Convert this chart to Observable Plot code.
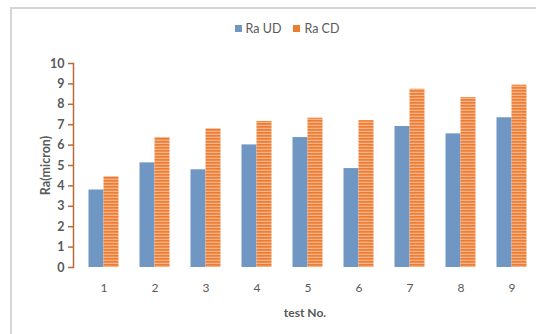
<!DOCTYPE html>
<html>
<head>
<meta charset="utf-8">
<script src="https://cdn.jsdelivr.net/npm/d3@7"></script>
<script src="https://cdn.jsdelivr.net/npm/@observablehq/plot@0.6"></script>
<style>
  html, body { margin: 0; padding: 0; background: #fff; overflow: hidden; }
  #wrap { position: relative; width: 536px; height: 334px; }
  #border { position: absolute; left: 10px; top: 7px; right: -4px; bottom: -4px;
            border-left: 2px solid #d6d6d6; border-top: 2px solid #d6d6d6; }
  #legend { position: absolute; left: 0; top: 20px; width: 536px; text-align: center;
            font: 12.5px Lato, "Liberation Sans", sans-serif; color: #595959; padding-left: 38px; box-sizing: border-box; }
  #legend span.item { display: inline-flex; align-items: center; margin: 0 6px; }
  #legend i { display: inline-block; width: 7px; height: 7px; margin-right: 4px; }
  #chart { position: absolute; left: 0; top: 0; }
</style>
</head>
<body>
<div id="wrap">
  <div id="chart"></div>
  <div id="border"></div>
  <div id="legend"></div>
</div>
<script>
// Surface roughness per test, uncoated (UD) vs coated (CD) drill
const tests = [1, 2, 3, 4, 5, 6, 7, 8, 9];
const raUD = [3.8, 5.13, 4.79, 6.01, 6.37, 4.85, 6.91, 6.55, 7.34];
const raCD = [4.45, 6.37, 6.8, 7.16, 7.32, 7.2, 8.74, 8.33, 8.94];
const seriesNames = ["Ra UD", "Ra CD"];
const yTicks = [0, 1, 2, 3, 4, 5, 6, 7, 8, 9, 10];

const blue = "#7097c3";
const orange = "#ee7d32";
const axisColor = "#b86a3a";
const textColor = "#595959";

const rows = tests.map((t, i) => ({test: t, ud: raUD[i], cd: raCD[i]}));

const plot = Plot.plot({
  width: 536,
  height: 334,
  marginTop: 63,
  marginBottom: 67,
  marginLeft: 73,
  marginRight: 0,
  style: {fontFamily: "Lato, 'Liberation Sans', sans-serif", fontSize: "12px", color: textColor, background: "transparent"},
  x: {domain: tests, range: [75, 540], paddingInner: 0.71, paddingOuter: 0.355},
  y: {domain: [0, 10]},
  marks: [
    Plot.barY(rows, {x: "test", y: "ud", fill: blue, dx: -7.5}),
    Plot.barY(rows, {x: "test", y: "cd", fill: "url(#cdStripes)", dx: 7.5}),
    Plot.frame({anchor: "left", stroke: axisColor, strokeWidth: 1.5}),
    Plot.axisY({ticks: yTicks, tickSize: 5, stroke: axisColor, strokeWidth: 1.5, tickPadding: 4,
      fontWeight: "bold", fontSize: 12.5, fill: textColor,
      label: "Ra(micron)", labelAnchor: "center", labelArrow: "none", labelOffset: 32}),
    Plot.axisX({tickSize: 0, tickPadding: 16, fill: textColor, fontSize: 12,
      label: "test No.", labelAnchor: "center", labelArrow: "none", labelOffset: 49})
  ]
});

// Horizontal stripe fill used by the CD bars
const ns = "http://www.w3.org/2000/svg";
const defs = document.createElementNS(ns, "defs");
defs.innerHTML = `<pattern id="cdStripes" width="6" height="3" patternUnits="userSpaceOnUse">
  <rect width="6" height="3" fill="#f6b38a"></rect>
  <rect width="6" height="1.7" fill="${orange}"></rect>
</pattern>`;
plot.insertBefore(defs, plot.firstChild);
// bold axis titles
plot.querySelectorAll("[aria-label='y-axis label'] text, [aria-label='x-axis label'] text")
  .forEach(t => { t.setAttribute("font-weight", "bold"); });
document.getElementById("chart").appendChild(plot);

// Legend
const legend = document.getElementById("legend");
seriesNames.forEach((name, i) => {
  const item = document.createElement("span");
  item.className = "item";
  const sw = document.createElement("i");
  sw.style.background = i === 0 ? blue : orange;
  item.appendChild(sw);
  item.appendChild(document.createTextNode(name));
  legend.appendChild(item);
});
</script>
</body>
</html>
